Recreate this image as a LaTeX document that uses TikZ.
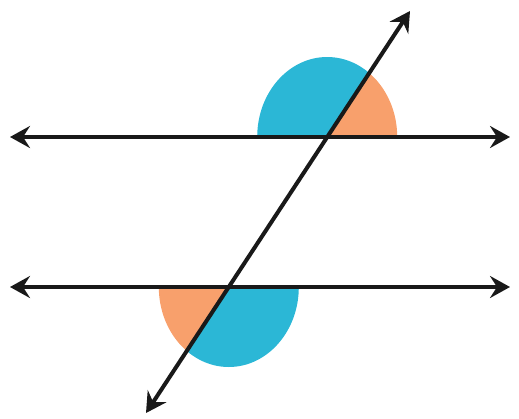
\documentclass[tikz,border=0pt]{standalone}
\usetikzlibrary{arrows.meta}
\definecolor{angblue}{HTML}{2BB7D6}
\definecolor{angorange}{HTML}{F8A06C}
\tikzset{
  linestyle/.style={line width=4pt, draw=black!90, {Stealth[length=20pt,width=22pt,inset=7pt]}-{Stealth[length=20pt,width=22pt,inset=7pt]}},
  sector/.style={x radius=70pt, y radius=80pt}
}
\begin{document}
\begin{tikzpicture}[x=1pt,y=-1pt]
\useasboundingbox (0,0) rectangle (519,418);
\coordinate (A1) at (10,137);
\coordinate (A2) at (510,137);
\coordinate (B1) at (10,287);
\coordinate (B2) at (510,287);
\coordinate (T1) at (146,413);
\coordinate (T2) at (410,11);
\coordinate (P1) at (327.2,137);
\coordinate (P2) at (228.8,287);
% upper sectors
\begin{scope}
\clip (P1) -- (T2) -- (200,11) -- (200,137) -- cycle;
\fill[angblue] (P1) ellipse [sector];
\end{scope}
\begin{scope}
\clip (P1) -- (T2) -- (460,11) -- (460,137) -- cycle;
\fill[angorange] (P1) ellipse [sector];
\end{scope}
% lower sectors
\begin{scope}
\clip (P2) -- (T1) -- (100,413) -- (100,287) -- cycle;
\fill[angorange] (P2) ellipse [sector];
\end{scope}
\begin{scope}
\clip (P2) -- (T1) -- (360,413) -- (360,287) -- cycle;
\fill[angblue] (P2) ellipse [sector];
\end{scope}
\draw[linestyle] (A1) -- (A2);
\draw[linestyle] (B1) -- (B2);
\draw[linestyle] (T1) -- (T2);
\end{tikzpicture}
\end{document}
